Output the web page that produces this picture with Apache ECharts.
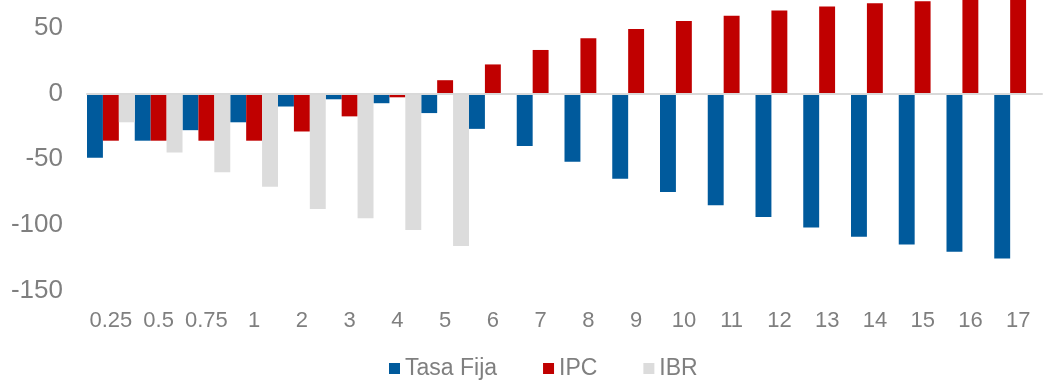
<!DOCTYPE html>
<html>
<head>
<meta charset="utf-8">
<script src="https://cdn.jsdelivr.net/npm/echarts@6/dist/echarts.min.js"></script>
<style>
html, body { margin: 0; padding: 0; background: #ffffff; }
#chart { width: 1046px; height: 381px; }
</style>
</head>
<body>
<div id="chart"></div>
<script>
const categories = ['0.25', '0.5', '0.75', '1', '2', '3', '4', '5', '6', '7', '8', '9', '10', '11', '12', '13', '14', '15', '16', '17'];
const tasaFija = [-49, -36, -28, -22, -10, -4.5, -7.5, -15, -27, -40, -52, -65, -75, -85, -94, -102, -109, -115, -120.5, -125.5];
const ipc = [-36, -36, -36, -36, -29, -17.5, -3, 10, 22, 33, 42, 49, 55, 59, 63, 66, 68.5, 70, 74, 76];
const ibr = [-22, -45, -60, -71, -88, -95, -104, -116, null, null, null, null, null, null, null, null, null, null, null, null];
const seriesNames = ['Tasa Fija', 'IPC', 'IBR'];
const yTicks = { min: -150, max: 71, interval: 50 };

const textColor = '#7f7f7f';
const fontFamily = '"Liberation Sans", Arial, sans-serif';

const chart = echarts.init(document.getElementById('chart'), null, { renderer: 'canvas' });
chart.setOption({
  animation: false,
  backgroundColor: '#ffffff',
  grid: { left: 87, right: 4, top: 0, bottom: 90.4, containLabel: false },
  legend: {
    data: seriesNames,
    left: 384,
    top: 352,
    icon: 'rect',
    itemWidth: 11,
    itemHeight: 11,
    itemGap: 46,
    textStyle: { color: textColor, fontSize: 23, fontFamily: fontFamily }
  },
  xAxis: {
    type: 'category',
    data: categories,
    z: 5,
    axisLine: { show: true, onZero: true, lineStyle: { color: '#d9d9d9', width: 2 } },
    axisTick: { show: false },
    axisLabel: { show: true, color: textColor, fontSize: 22, fontFamily: fontFamily, margin: 19, interval: 0 },
    splitLine: { show: false }
  },
  yAxis: {
    type: 'value',
    min: yTicks.min,
    max: yTicks.max,
    interval: yTicks.interval,
    axisLine: { show: false },
    axisTick: { show: false },
    splitLine: { show: false },
    axisLabel: { color: textColor, fontSize: 26, fontFamily: fontFamily, margin: 24, showMaxLabel: false }
  },
  series: [
    { name: seriesNames[0], type: 'bar', data: tasaFija, itemStyle: { color: '#005a9c' }, barGap: '0%', barCategoryGap: '0%' },
    { name: seriesNames[1], type: 'bar', data: ipc, itemStyle: { color: '#c00000' }, barGap: '0%', barCategoryGap: '0%' },
    { name: seriesNames[2], type: 'bar', data: ibr, itemStyle: { color: '#dcdcdc' }, barGap: '0%', barCategoryGap: '0%' }
  ]
});
</script>
</body>
</html>
